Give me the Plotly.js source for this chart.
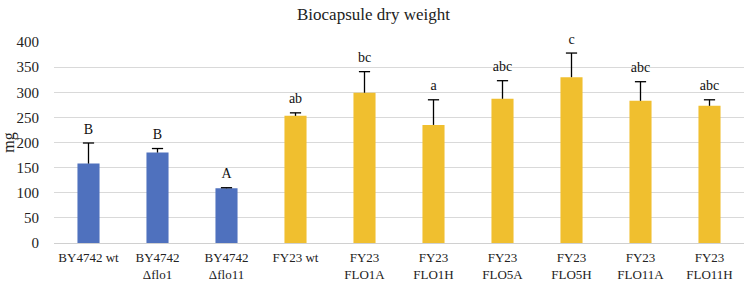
<!DOCTYPE html>
<html>
<head>
<meta charset="utf-8">
<script src="https://cdn.plot.ly/plotly-3.0.1.min.js"></script>
<style>
  html, body { margin: 0; padding: 0; background: #fff; }
  #chart { width: 747px; height: 283px; }
</style>
</head>
<body>
<div id="chart"></div>
<script>
const categories = [
    'BY4742 wt', 'BY4742<br>Δflo1', 'BY4742<br>Δflo11', 'FY23 wt',
    'FY23<br>FLO1A', 'FY23<br>FLO1H', 'FY23<br>FLO5A', 'FY23<br>FLO5H',
    'FY23<br>FLO11A', 'FY23<br>FLO11H',
];
const weights = [158, 180, 109, 253, 299, 235, 287, 330, 283, 273];
const errors = [41, 8, 1, 6, 42, 50, 36, 48, 38, 12];
const letters = ['B', 'B', 'A', 'ab', 'bc', 'a', 'abc', 'c', 'abc', 'abc'];
const groups = ['BY', 'BY', 'BY', 'FY', 'FY', 'FY', 'FY', 'FY', 'FY', 'FY'];

const groupColor = { BY: '#4f71be', FY: '#f0bf2f' };
const serif = '"Liberation Serif", "Times New Roman", serif';
const tops = weights.map((w, i) => w + errors[i]);

const traces = [
    {
        type: 'bar',
        x: categories,
        y: weights,
        marker: { color: groups.map(g => groupColor[g]) },
        // upper half only, the cap is drawn by the marker trace below
        error_y: {
            type: 'data',
            symmetric: false,
            array: errors,
            arrayminus: errors.map(() => 0),
            color: '#000',
            thickness: 1.3,
            width: 0,
        },
        hoverinfo: 'x+y',
    },
    {
        type: 'scatter',
        mode: 'markers+text',
        x: categories,
        y: tops,
        text: letters,
        textposition: 'top center',
        textfont: { family: serif, size: 14, color: '#111' },
        marker: { symbol: 'line-ew-open', size: 8, color: '#000', line: { color: '#000', width: 1.3 } },
        hoverinfo: 'skip',
        cliponaxis: false,
    },
];

const layout = {
    width: 747,
    height: 283,
    margin: { l: 54, r: 3, t: 42, b: 40 },
    paper_bgcolor: '#fff',
    plot_bgcolor: '#fff',
    font: { family: serif, size: 13, color: '#222' },
    title: {
        text: 'Biocapsule dry weight',
        x: 0.5,
        xanchor: 'center',
        y: 0.95,
        yanchor: 'middle',
        font: { family: serif, size: 17, color: '#222' },
    },
    bargap: 0.68,
    showlegend: false,
    xaxis: {
        type: 'category',
        range: [-0.5, categories.length - 0.5],
        showgrid: false,
        showline: true,
        linecolor: '#d0d0d0',
        linewidth: 1,
        ticks: '',
        ticklabelstandoff: 2,
        tickfont: { family: serif, size: 13, color: '#222' },
    },
    yaxis: {
        range: [0, 400],
        dtick: 50,
        showgrid: true,
        gridcolor: '#d9d9d9',
        gridwidth: 1,
        zeroline: false,
        showline: false,
        ticks: '',
        ticklabelstandoff: 14,
        tickfont: { family: serif, size: 15, color: '#222' },
        title: { text: 'mg', standoff: 8, font: { family: serif, size: 16, color: '#222' } },
    },
};

Plotly.newPlot('chart', traces, layout, { displayModeBar: false, staticPlot: true });
</script>
</body>
</html>
